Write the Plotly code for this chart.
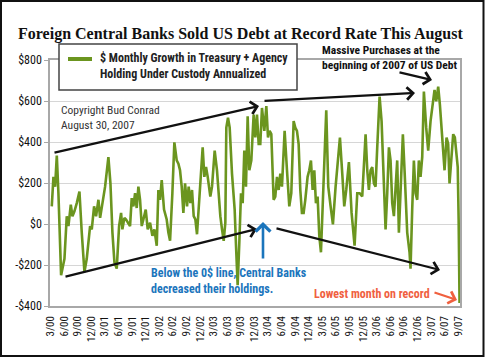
import plotly.graph_objects as go

# ---- data (month index: 0 = Mar 2000, 90 = Sep 2007) ----
month_index = [
    0.29, 0.66, 1.03, 1.18, 1.40, 1.76, 2.35, 3.09, 3.60, 3.97, 4.49, 4.85, 5.29, 5.81, 6.40,
    6.91, 7.50, 8.01, 8.75, 9.12, 9.63, 10.07, 10.59, 10.96, 11.32, 12.06, 12.79, 13.24, 13.68,
    14.12, 14.63, 15.15, 15.59, 15.88, 16.32, 16.69, 17.57, 17.94, 18.31, 18.68, 19.04, 19.41,
    19.78, 20.15, 20.51, 21.03, 21.47, 21.99, 22.50, 22.94, 23.46, 23.82, 24.19, 24.56, 25.07,
    25.66, 26.03, 26.40, 26.91, 27.35, 27.87, 28.24, 28.60, 28.97, 29.34, 29.71,
    30.15, 30.51, 30.88, 31.25, 31.62, 31.99, 32.35, 32.87, 33.31, 33.60, 33.97, 34.34, 34.71,
    35.29, 35.66, 36.25, 36.76, 37.13, 37.50, 37.87, 38.24, 38.60, 38.82, 39.19, 39.56, 40.07,
    40.66, 40.96, 41.32, 41.69, 42.06, 42.43, 42.79, 43.16, 43.53, 43.90, 44.34, 44.85, 45.22,
    45.59, 45.96, 46.32, 46.69, 47.21, 47.65, 48.02, 48.38, 48.75, 49.04, 49.26, 49.63, 50.00,
    50.37, 50.74, 51.10, 51.69, 52.21, 52.72, 53.16, 53.68, 54.04, 54.41, 54.78, 55.15, 55.51,
    55.88, 56.25, 56.76, 57.13, 57.50, 57.87, 58.24, 58.60, 58.97, 59.34, 59.71,
    60.88, 61.32, 61.84, 62.35, 62.94, 63.46, 63.90, 64.41, 64.85, 65.29, 65.88, 66.47, 67.13,
    67.72, 68.24, 68.82, 69.19, 69.56, 69.93, 70.29, 70.66, 71.03, 71.40, 71.76, 72.13, 72.65,
    73.09, 73.60, 73.97, 74.34, 74.71, 75.07, 75.44, 75.81, 76.18, 76.54, 76.91, 77.43, 77.79,
    78.16, 78.75, 79.26, 79.48, 79.85, 80.22, 80.59, 80.96, 81.32, 81.69, 82.06, 82.43, 82.94,
    83.38, 83.90, 84.41, 84.78, 85.15, 85.59, 85.96, 86.47, 86.99, 87.43, 87.79, 88.09, 88.53,
    88.90, 89.26, 89.60, 89.90, 90.10, 90.30,
]
growth = [
    86, 230, 182, 230, 334, 150, -250, -170, 38, -10, 94, 38, 62, 102, 158,
    -42, -234, -170, -10, -26, 86, 38, 118, 30, 86, 182, 326, 198, -42,
    -186, -218, -10, 54, -26, 30, 22, -10, 126, 86, 150, 78, 182,
    118, -10, 22, 70, -26, 6, -58, -26, -106, 166, 118, 214, 70,
    22, -42, -82, 150, 398, 310, 294, 262, 182, 54, 198,
    86, 182, 102, 166, 38, 22, -50, 118, 230, 374, 230, 278, 230,
    134, 182, 358, 262, 118, 38, -26, -82, 6, 470, 518, 470, 246,
    70, -106, -298, -90, 150, 102, 358, 182, 526, 262, 310, 534, 422,
    534, 390, 390, 566, 454, 575, 422, 454, 438, 262, 118, 134, 230,
    166, 246, 182, 454, 262, 86, 150, 502, 470, 454, 390, 166, 54,
    54, 118, 230, 262, 310, 166, 262, 102, 134, -58, -138,
    555, 182, 86, -2, 182, 310, 422, 246, 86, 166, 302, 54, -106,
    150, 150, 134, 294, 438, 262, 166, 262, 278, 198, 182, 374, 622,
    502, 150, -26, 150, 374, 310, 102, 38, 166, 310, -42, 198, 438,
    262, -42, -138, -218, 70, 310, 150, 118, 310, 230, 326, 646, 470,
    358, 502, 598, 654, 598, 670, 582, 438, 262, 422, 390, 198, 342,
    438, 422, 358, 278, 22, -385,
]

tick_months = list(range(0, 91, 3))
tick_labels = ["3/00", "6/00", "9/00", "12/00", "3/01", "6/01", "9/01", "12/01",
               "3/02", "6/02", "9/02", "12/02", "3/03", "6/03", "9/03", "12/03",
               "3/04", "6/04", "9/04", "12/04", "3/05", "6/05", "9/05", "12/05",
               "3/06", "6/06", "9/06", "12/06", "3/07", "6/07", "9/07"]
y_ticks = [800, 600, 400, 200, 0, -200, -400]
y_labels = ["$800", "$600", "$400", "$200", "$0", "-$200", "-$400"]

series_name = "$ Monthly Growth in Treasury + Agency<br>Holding Under Custody Annualized"

# ---- layout helpers ----
W, H = 485, 358
L, R, T, B = 50, 460, 60, 306
NARROW = "Roboto Condensed, Liberation Sans, sans-serif"


def px(x):
    return (x - L) / (R - L)


def py(y):
    return (B - y) / (B - T)


GREEN = "#6b951f"
BLUE = "#1b75bc"
RED = "#f0603f"

fig = go.Figure()
fig.add_trace(go.Scatter(x=month_index, y=growth, mode="lines",
                         line=dict(color=GREEN, width=2.6), showlegend=False,
                         hoverinfo="skip"))

shapes = [
    # outer frame
    dict(type="rect", xref="paper", yref="paper", x0=px(1), x1=px(483.5), y0=py(1), y1=py(356),
         line=dict(color="#111", width=2), fillcolor="rgba(0,0,0,0)", layer="above"),
    # legend box
    dict(type="rect", xref="paper", yref="paper", x0=px(59), x1=px(297), y0=py(44), y1=py(90),
         line=dict(color="#444", width=1.5), fillcolor="white", layer="above"),
    dict(type="line", xref="paper", yref="paper", x0=px(68), x1=px(92), y0=py(59), y1=py(59),
         line=dict(color=GREEN, width=4), layer="above"),
]

annotations = [
    dict(text="<b>Foreign Central Banks Sold US Debt at Record Rate This August</b>",
         xref="paper", yref="paper", x=px(240), y=py(23), showarrow=False,
         font=dict(family="Liberation Serif, serif", size=16, color="#111")),
    dict(text="<b>" + series_name + "</b>", xref="paper", yref="paper",
         x=px(98), y=py(66.5), xanchor="left", yanchor="middle", align="left", showarrow=False,
         font=dict(family=NARROW, size=12, color="#222")),
    dict(text="Copyright Bud Conrad<br>August 30, 2007", xref="paper", yref="paper",
         x=px(59), y=py(117.5), xanchor="left", yanchor="middle", align="left", showarrow=False,
         font=dict(family=NARROW, size=11.5, color="#333")),
    dict(text="<b>Massive Purchases at the<br>beginning of 2007 of US Debt</b>", xref="paper",
         yref="paper", x=px(320), y=py(57.5), xanchor="left", yanchor="middle", align="left",
         showarrow=False, font=dict(family=NARROW, size=11.5, color="#111")),
    dict(text="<b>Below the 0$ line, Central Banks<br>decreased their holdings.</b>", xref="paper",
         yref="paper", x=px(149), y=py(281), xanchor="left", yanchor="middle", align="left",
         showarrow=False, font=dict(family=NARROW, size=12, color=BLUE)),
    dict(text="<b>Lowest month on record</b>", xref="paper", yref="paper",
         x=px(312), y=py(294), xanchor="left", yanchor="middle", showarrow=False,
         font=dict(family=NARROW, size=12, color=RED)),
]


def arrow(x0, y0, x1, y1, color="#111", width=2.2, head=4):
    return dict(text="", xref="paper", yref="paper", x=px(x1), y=py(y1),
                ax=x0 - x1, ay=y0 - y1, axref="pixel", ayref="pixel",
                showarrow=True, arrowhead=head, arrowsize=1.1, arrowwidth=width,
                arrowcolor=color)


annotations += [
    arrow(53, 153, 259, 106),
    arrow(263, 101, 415, 93),
    arrow(398, 72, 432, 80),
    arrow(64, 277, 257, 229),
    arrow(275, 228, 440, 270),
    arrow(263, 260, 263, 222, color=BLUE, width=2.6),
    arrow(433, 292, 457, 300, color=RED, width=2.2),
]

fig.update_layout(
    width=W, height=H,
    margin=dict(l=L, r=W - R, t=T, b=H - B, pad=0),
    paper_bgcolor="white", plot_bgcolor="white",
    shapes=shapes, annotations=annotations, showlegend=False,
    xaxis=dict(range=[-0.1, 90.4], tickmode="array", tickvals=tick_months, ticktext=tick_labels,
               tickangle=-90, showgrid=False, zeroline=False, showline=True,
               linecolor="#a8a8a8", linewidth=1.5, mirror=True, ticks="",
               tickfont=dict(family=NARROW, size=11, color="#111"),
               ticklabelstandoff=4),
    yaxis=dict(range=[-400, 800], tickmode="array", tickvals=y_ticks, ticktext=y_labels,
               showgrid=True, gridcolor="#d6d6d6", gridwidth=1.2, zeroline=False,
               showline=True, linecolor="#a8a8a8", linewidth=1.5, mirror=True,
               ticks="outside", ticklen=4, tickcolor="#a8a8a8",
               tickfont=dict(family=NARROW, size=12, color="#111")),
)

fig.update_xaxes(tickprefix="<b>", ticksuffix="</b>")
fig.update_yaxes(tickprefix="<b>", ticksuffix="</b>")

fig.write_html("out.html", config={"displayModeBar": False},
               post_script="document.body.style.margin='0';")
